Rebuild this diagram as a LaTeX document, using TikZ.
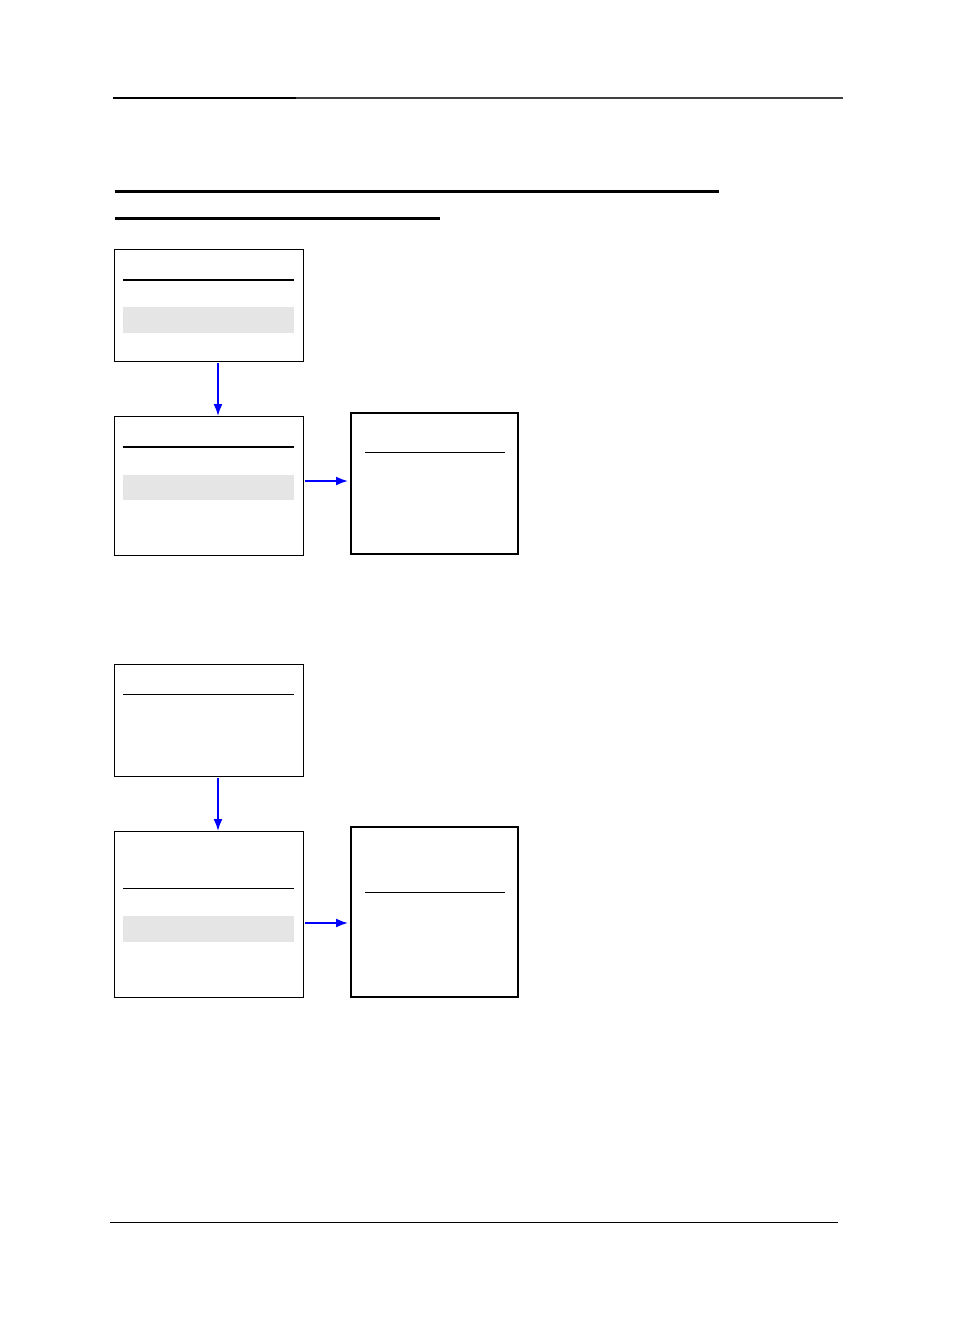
\documentclass[tikz,border=0pt]{standalone}
\usetikzlibrary{arrows.meta}
\begin{document}
\begin{tikzpicture}[x=1pt,y=-1pt,
  card/.style={draw=black,line width=1pt,inner sep=0pt,outer sep=0pt,anchor=north west},
  bigcard/.style={draw=black,line width=2.5pt,inner sep=0pt,outer sep=0pt,anchor=north west},
  graybar/.style={fill=black!10,draw=none},
  flow/.style={draw=blue,line width=1.8pt,-{Latex[length=12pt,width=9pt]}}]
\useasboundingbox (0,0) rectangle (954,1336);
% header rules
\draw[line width=2.5pt,black] (113,98) -- (296,98);
\draw[line width=2pt,black!75] (296,98) -- (843,98);
\draw[line width=3pt] (115,191) -- (719,191);
\draw[line width=3pt] (115,218) -- (440,218);
% group 1
\node[card,minimum width=189pt,minimum height=112pt] (a) at (114.5,249.5) {};
\draw[line width=2pt] (123,280) -- (294,280);
\fill[graybar] (123,307) rectangle (294,333);
\node[card,minimum width=189pt,minimum height=139pt] (b) at (114.5,416.5) {};
\draw[line width=2pt] (123,447) -- (294,447);
\fill[graybar] (123,475) rectangle (294,500);
\node[bigcard,minimum width=167pt,minimum height=141pt] (c) at (351,413) {};
\draw[line width=1pt] (365,452) -- (505,452);
\coordinate (a1) at (218,363);
\coordinate (b1) at (218,416);
\draw[flow] (a1) -- (b1);
\coordinate (b2) at (305,481);
\coordinate (c1) at (348,481);
\draw[flow] (b2) -- (c1);
% group 2
\node[card,minimum width=189pt,minimum height=112pt] (d) at (114.5,664.5) {};
\draw[line width=1pt] (123,694) -- (294,694);
\node[card,minimum width=189pt,minimum height=166pt] (e) at (114.5,831.5) {};
\draw[line width=1pt] (123,888) -- (294,888);
\fill[graybar] (123,916) rectangle (294,942);
\node[bigcard,minimum width=167pt,minimum height=170pt] (f) at (351,827) {};
\draw[line width=1pt] (365,892) -- (505,892);
\coordinate (d1) at (218,778);
\coordinate (e1) at (218,831);
\draw[flow] (d1) -- (e1);
\coordinate (e2) at (305,923);
\coordinate (f1) at (348,923);
\draw[flow] (e2) -- (f1);
% footer rule
\draw[line width=1pt] (110,1222) -- (838,1222);
\end{tikzpicture}
\end{document}
